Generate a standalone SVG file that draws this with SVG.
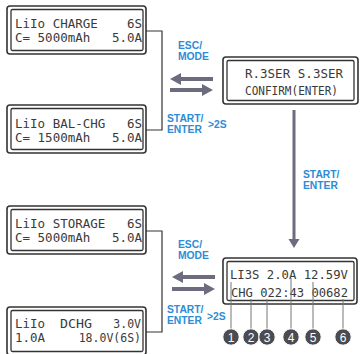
<svg xmlns="http://www.w3.org/2000/svg" width="360" height="354" viewBox="0 0 360 354">
<defs>
<style>
.o{fill:#fff;stroke:#333;stroke-width:1.6}
.i{fill:none;stroke:#333;stroke-width:1.3}
.l{font-family:"DejaVu Sans Mono","Liberation Mono",monospace;font-size:12.5px;fill:#3a3a3a}
.s{font-size:11.5px}
.e{text-anchor:end}
.b{font-family:"Liberation Sans","Open Sans",sans-serif;font-weight:bold;font-size:10.3px;fill:#2d8cd6}
.c{fill:none;stroke:#333;stroke-width:1.2}
.a{fill:#6c6c7e}
.p{stroke:#777;stroke-width:1}
.n{fill:#4b4b50;stroke:#fff;stroke-width:1}
.t{font-family:"Liberation Sans","Open Sans",sans-serif;font-size:12px;fill:#fff;text-anchor:middle}
</style>
</defs>
<rect width="360" height="354" fill="#fff"/>
<g id="connectors">
<polyline class="c" points="146,31 162,31 162,130 146,130"/>
<polyline class="c" points="146,231 162,231 162,332 146,332"/>
<path class="a" d="M170,79 L181,73 L181,77 L213,77 L213,81 L181,81 L181,85 Z"/>
<path class="a" d="M213,90 L202,84 L202,88 L170,88 L170,92 L202,92 L202,96 Z"/>
<path class="a" d="M172,277 L183,271 L183,275 L215,275 L215,279 L183,279 L183,283 Z"/>
<path class="a" d="M215,289 L204,283 L204,287 L172,287 L172,291 L204,291 L204,295 Z"/>
<path class="a" d="M294,248 L288.5,239 L292.5,239 L292.5,110 L295.5,110 L295.5,239 L299.5,239 Z"/>
<text class="b" x="178" y="49">ESC/</text>
<text class="b" x="178" y="60">MODE</text>
<text class="b" x="167" y="122">START/</text>
<text class="b" x="167" y="133">ENTER</text>
<text class="b" x="208" y="128">&gt;2S</text>
<text class="b" x="303" y="178">START/</text>
<text class="b" x="303" y="189">ENTER</text>
<text class="b" x="178" y="248">ESC/</text>
<text class="b" x="178" y="259">MODE</text>
<text class="b" x="167" y="313">START/</text>
<text class="b" x="167" y="324">ENTER</text>
<text class="b" x="207" y="320">&gt;2S</text>
</g>
<g id="box-charge">
<rect class="o" x="7" y="6" width="139" height="48" rx="3"/>
<rect class="i" x="11" y="9.5" width="132" height="41" rx="1.5"/>
<text class="l" x="15" y="28">LiIo CHARGE</text>
<text class="l e" x="142" y="28">6S</text>
<text class="l" x="15" y="42">C= 5000mAh</text>
<text class="l e" x="142" y="42">5.0A</text>
</g>
<g id="box-balchg">
<rect class="o" x="7" y="105" width="139" height="48" rx="3"/>
<rect class="i" x="11" y="108.5" width="132" height="41" rx="1.5"/>
<text class="l" x="15" y="128">LiIo BAL-CHG</text>
<text class="l e" x="142" y="128">6S</text>
<text class="l" x="15" y="142">C= 1500mAh</text>
<text class="l e" x="142" y="142">5.0A</text>
</g>
<g id="box-storage">
<rect class="o" x="7" y="206" width="139" height="48" rx="3"/>
<rect class="i" x="11" y="209.5" width="132" height="41" rx="1.5"/>
<text class="l" x="15" y="228">LiIo STORAGE</text>
<text class="l e" x="142" y="228">6S</text>
<text class="l" x="15" y="242">C= 5000mAh</text>
<text class="l e" x="142" y="242">5.0A</text>
</g>
<g id="box-dchg">
<rect class="o" x="7" y="307" width="139" height="48" rx="3"/>
<rect class="i" x="11" y="310.5" width="132" height="41" rx="1.5"/>
<text class="l s" x="15" y="328" textLength="30" lengthAdjust="spacingAndGlyphs">LiIo</text>
<text class="l s" x="60" y="328" textLength="32" lengthAdjust="spacingAndGlyphs">DCHG</text>
<text class="l s e" x="141" y="328">3.0V</text>
<text class="l s" x="15" y="342" textLength="30" lengthAdjust="spacingAndGlyphs">1.0A</text>
<text class="l s e" x="141" y="342">18.0V(6S)</text>
</g>
<g id="box-confirm">
<rect class="o" x="223" y="57" width="135" height="47" rx="3"/>
<rect class="i" x="227" y="60.5" width="127" height="40" rx="1.5"/>
<text class="l" x="245" y="78">R.3SER</text>
<text class="l e" x="343" y="78">S.3SER</text>
<text class="l" x="245" y="95" textLength="93" lengthAdjust="spacingAndGlyphs">CONFIRM(ENTER)</text>
</g>
<g id="box-status">
<rect class="o" x="223" y="258" width="134" height="46" rx="3"/>
<rect class="i" x="227" y="261.5" width="127" height="39" rx="1.5"/>
<text class="l" x="230" y="279" xml:space="preserve" textLength="118" lengthAdjust="spacingAndGlyphs">LI3S 2.0A 12.59V</text>
<text class="l" x="231" y="297" xml:space="preserve" textLength="117" lengthAdjust="spacingAndGlyphs">CHG 022:43 00682</text>
</g>
<g id="callouts">
<line class="p" x1="231" y1="282" x2="231" y2="330"/>
<line class="p" x1="251" y1="299" x2="251" y2="330"/>
<line class="p" x1="267" y1="299" x2="267" y2="330"/>
<line class="p" x1="291" y1="278" x2="291" y2="330"/>
<line class="p" x1="313" y1="282" x2="313" y2="330"/>
<line class="p" x1="343" y1="299" x2="343" y2="330"/>
</g>
<g id="marker-1"><circle class="n" cx="231" cy="337" r="8.2"/><text class="t" x="231" y="341.5">1</text></g>
<g id="marker-2"><circle class="n" cx="251" cy="337" r="8.2"/><text class="t" x="251" y="341.5">2</text></g>
<g id="marker-3"><circle class="n" cx="267" cy="337" r="8.2"/><text class="t" x="267" y="341.5">3</text></g>
<g id="marker-4"><circle class="n" cx="291" cy="337" r="8.2"/><text class="t" x="291" y="341.5">4</text></g>
<g id="marker-5"><circle class="n" cx="313" cy="337" r="8.2"/><text class="t" x="313" y="341.5">5</text></g>
<g id="marker-6"><circle class="n" cx="343" cy="337" r="8.2"/><text class="t" x="343" y="341.5">6</text></g>
</svg>
